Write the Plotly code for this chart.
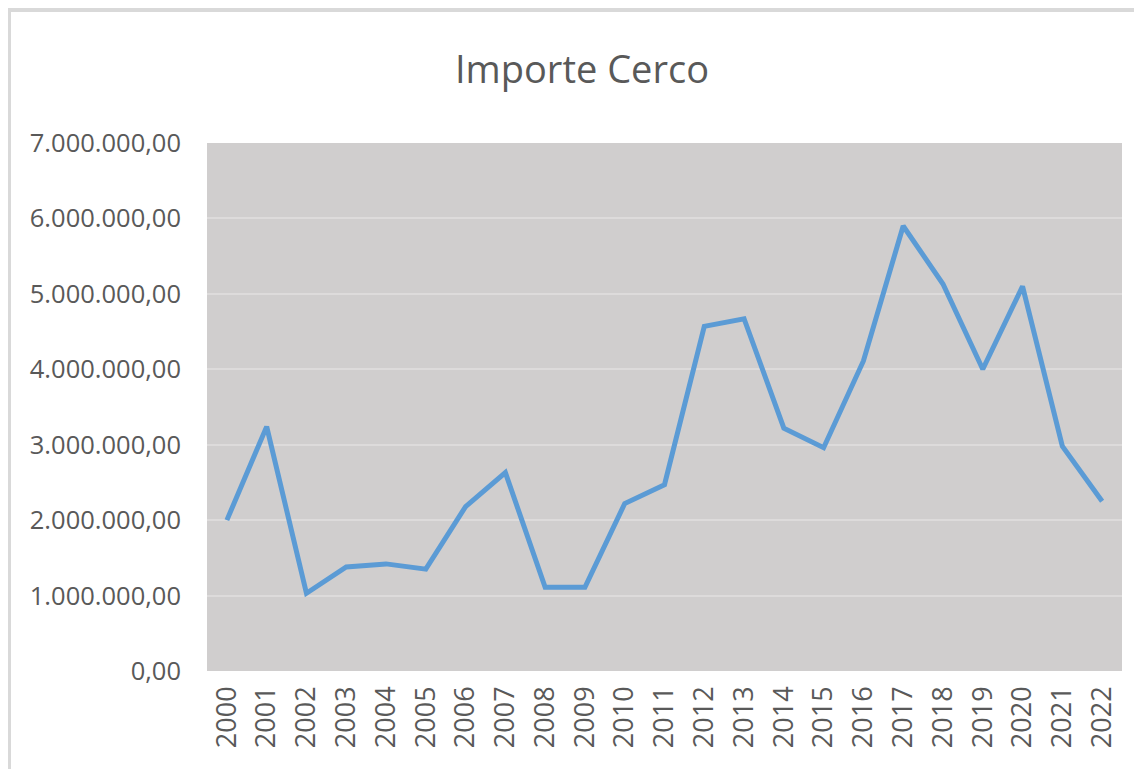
import plotly.graph_objects as go

years = [str(y) for y in range(2000, 2023)]
importe = [2000000, 3240000, 1030000, 1380000, 1420000, 1350000, 2180000, 2630000,
           1110000, 1110000, 2220000, 2470000, 4570000, 4670000, 3220000, 2960000,
           4110000, 5900000, 5130000, 4000000, 5100000, 2980000, 2250000]
y_ticks = [0, 1000000, 2000000, 3000000, 4000000, 5000000, 6000000, 7000000]

# page body has an 8px margin; figure is placed at (8, 8)
OFF = 8
W, H = 1142 - OFF, 769 - OFF
L, R, T, B = 207 - OFF, 1122 - OFF, 143 - OFF, 671 - OFF

def px(x):
    return (x - OFF - L) / (R - L)

def py(y):
    return (B - (y - OFF)) / (B - T)

fig = go.Figure()
fig.add_trace(go.Scatter(
    x=years, y=importe, mode="lines",
    line=dict(color="#5B9BD5", width=5),
    showlegend=False,
))

text_color = "#595959"
fig.update_layout(
    width=W, height=H,
    margin=dict(l=L, r=W - R, t=T, b=H - B),
    paper_bgcolor="white",
    plot_bgcolor="#D0CECE",
    separators=",.",
    title=dict(text="Importe Cerco", x=(582 - OFF) / W, xref="container", xanchor="center",
               y=1 - (70 - OFF) / H, yref="container", yanchor="middle",
               font=dict(family="Open Sans", size=38, color=text_color)),
    xaxis=dict(type="category", range=[-0.5, 22.5], tickangle=-90,
               showgrid=False, zeroline=False, showline=False, ticks="",
               ticklabelstandoff=9,
               tickfont=dict(family="Open Sans", size=27, color=text_color)),
    yaxis=dict(range=[0, 7000000], tickmode="array", tickvals=y_ticks,
               tickformat=",.2f", showgrid=True, gridcolor="#DDDBDB", gridwidth=1.5,
               zeroline=False, showline=False, ticks="", ticklabelstandoff=25,
               tickfont=dict(family="Open Sans", size=25.5, color=text_color)),
    shapes=[
        dict(type="line", xref="paper", yref="paper", x0=px(8), x1=px(1142), y0=py(10), y1=py(10),
             line=dict(color="#D9D9D9", width=4)),
        dict(type="line", xref="paper", yref="paper", x0=px(9.5), x1=px(9.5), y0=py(10), y1=py(769),
             line=dict(color="#D9D9D9", width=3)),
    ],
)

fig.write_html("out.html")
